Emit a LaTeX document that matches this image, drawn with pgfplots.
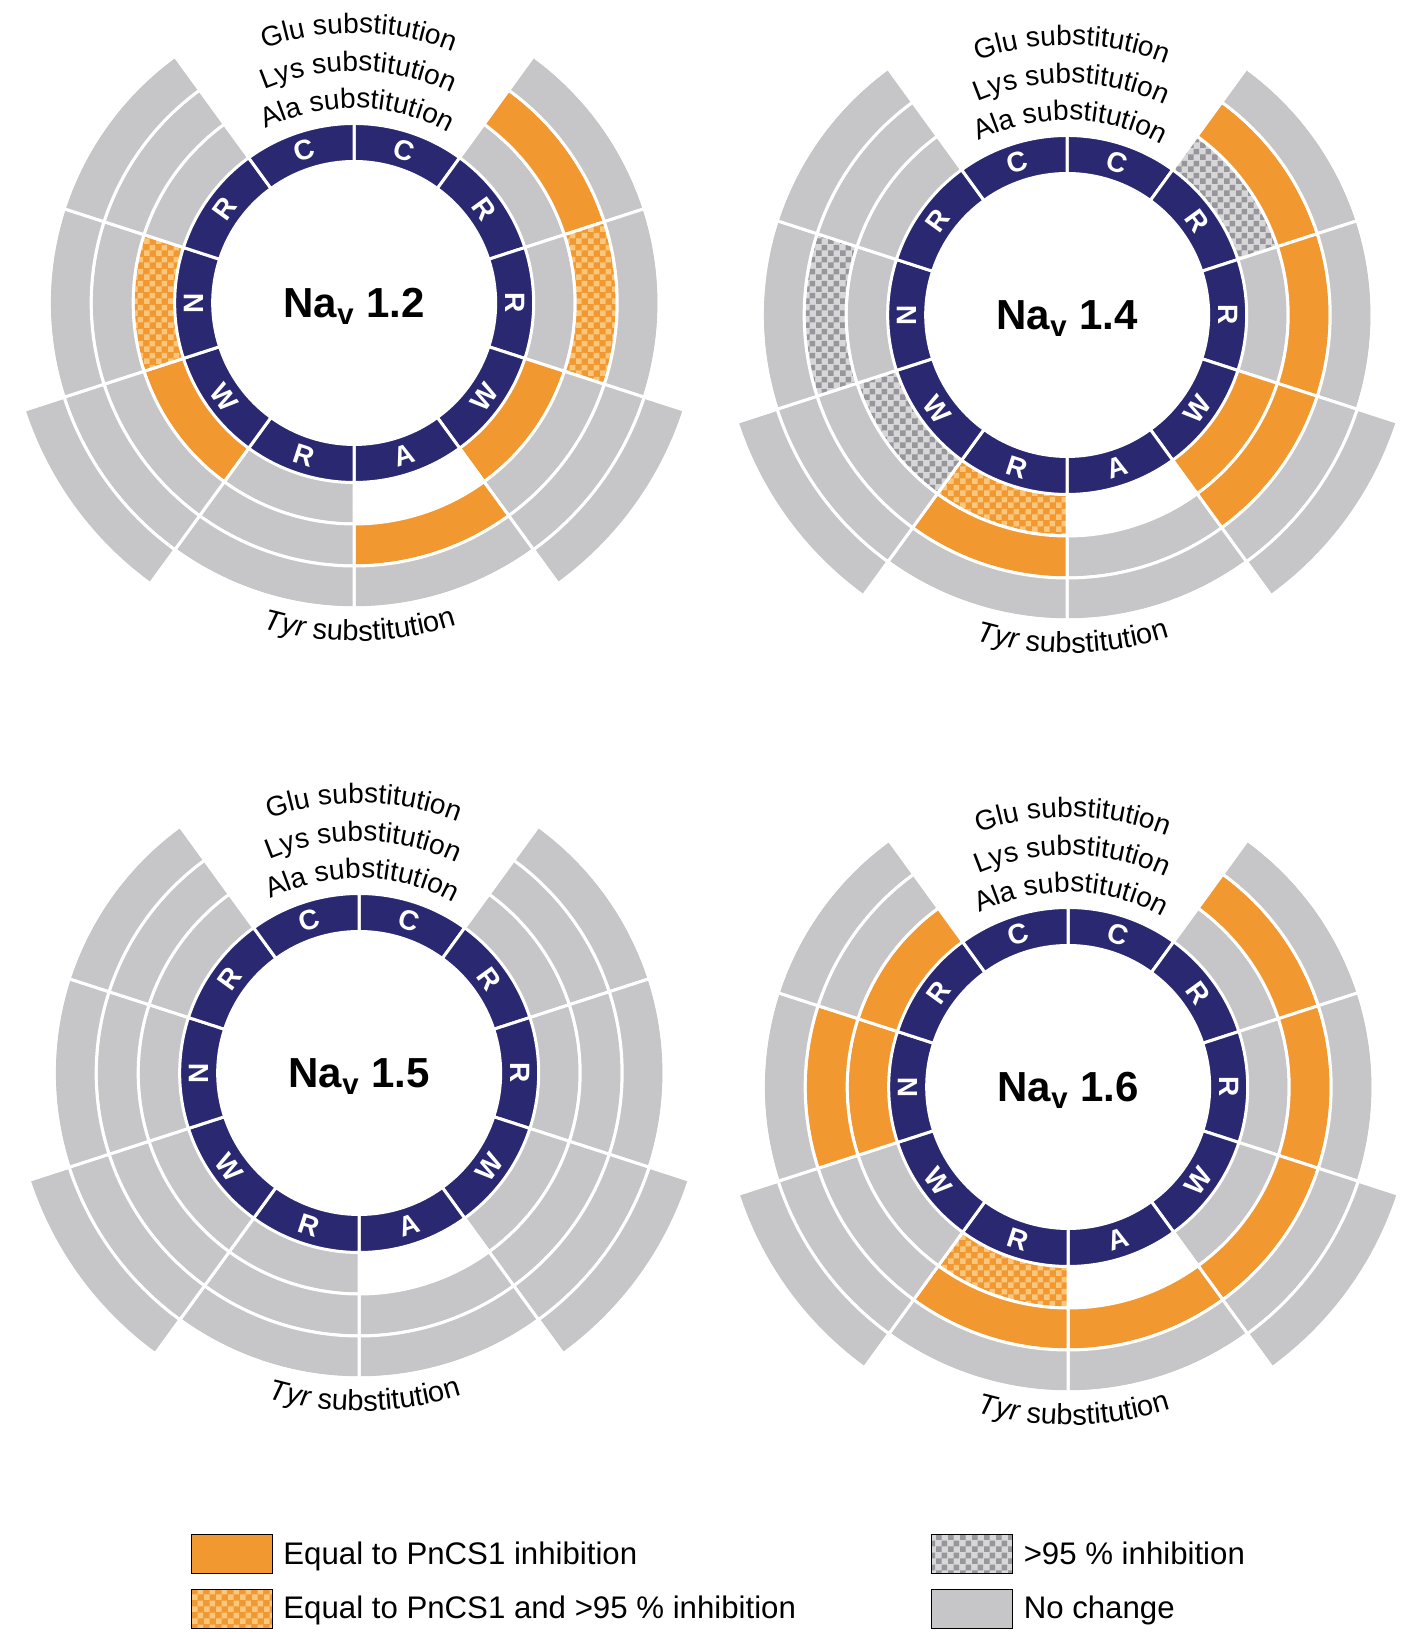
\documentclass[border=0pt]{standalone}
\usepackage{fontspec}
\setmainfont{Liberation Sans}
\usepackage{pgfplots}
\usepackage{pgfplotstable}
\pgfplotsset{compat=1.18}
\usetikzlibrary{patterns.meta,decorations.text}

\definecolor{cnavy}{RGB}{42,40,112}
\definecolor{corange}{RGB}{241,152,48}
\definecolor{corangelt}{RGB}{249,199,125}
\definecolor{cgray}{RGB}{198,198,200}
\definecolor{cgraydk}{RGB}{150,150,155}
\definecolor{cgraylt}{RGB}{215,215,218}

\pgfdeclarepattern{
  name=chk, type=uncolored,
  bottom left={\pgfpoint{0pt}{0pt}},
  top right={\pgfpoint{6pt}{6pt}},
  tile size={\pgfpoint{6pt}{6pt}},
  code={\pgfpathrectangle{\pgfpoint{0pt}{0pt}}{\pgfpoint{3pt}{3pt}}%
        \pgfpathrectangle{\pgfpoint{3pt}{3pt}}{\pgfpoint{3pt}{3pt}}%
        \pgfusepath{fill}}
}

\tikzset{
  st G/.style={fill=cgray},
  st O/.style={fill=corange},
  st H/.style={fill=corange, postaction={pattern=chk, pattern color=corangelt}},
  st X/.style={fill=cgraylt, postaction={pattern=chk, pattern color=cgraydk}},
  st N/.style={},
}

\newcommand\titlefont{\bfseries\fontsize{21}{21}\selectfont}
\newcommand\lblfont{\fontsize{14}{14}\selectfont}
\newcommand\tyrfont{\fontsize{14.5}{14.5}\selectfont}
\newcommand\navfont{\bfseries\fontsize{14}{14}\selectfont}
\newcommand\legfont{\fontsize{15.6}{15.6}\selectfont}

% states per segment (clockwise from the upper right R): ala lys glu tyr
% G no change, O equal to PnCS1, H equal and >95%, X >95%, N none
\pgfplotstableread{
seg ala lys glu tyr
1 G O G N
2 G H G N
3 O G G G
4 N O G N
5 G G G N
6 O G G G
7 H G G N
8 G G G N
}\navtwo
\pgfplotstableread{
seg ala lys glu tyr
1 X O G N
2 G O G N
3 O O G G
4 N G G N
5 H O G N
6 X G G G
7 G X G N
8 G G G N
}\navfour
\pgfplotstableread{
seg ala lys glu tyr
1 G G G N
2 G G G N
3 G G G G
4 N G G N
5 G G G N
6 G G G G
7 G G G N
8 G G G N
}\navfive
\pgfplotstableread{
seg ala lys glu tyr
1 G O G N
2 G O G N
3 G O G G
4 N O G N
5 H O G N
6 G G G G
7 O O G N
8 O G G N
}\navsix

\newcommand\sector[6]{%
  \path[#6, postaction={draw=white, line width=1.5pt}]
    (axis cs:{#1+#4*cos(#3)},{#2+#4*sin(#3)})
    arc[start angle=#3, end angle=#3-36, radius=#4*0.5pt]
    -- (axis cs:{#1+#5*cos(#3-36)},{#2+#5*sin(#3-36)})
    arc[start angle=#3-36, end angle=#3, radius=#5*0.5pt] -- cycle;}

\newcommand\drawchart[4]{%
  \foreach \r in {0,...,7}{%
    \pgfmathtruncatemacro\ang{54-36*\r}%
    \pgfplotstablegetelem{\r}{ala}\of{#1}\let\sA\pgfplotsretval
    \pgfplotstablegetelem{\r}{lys}\of{#1}\let\sB\pgfplotsretval
    \pgfplotstablegetelem{\r}{glu}\of{#1}\let\sC\pgfplotsretval
    \pgfplotstablegetelem{\r}{tyr}\of{#1}\let\sD\pgfplotsretval
    \edef\tmp{%
      \noexpand\sector{#2}{#3}{\ang}{179}{221}{st \sA}%
      \noexpand\sector{#2}{#3}{\ang}{221}{263}{st \sB}%
      \noexpand\sector{#2}{#3}{\ang}{263}{305}{st \sC}%
      \noexpand\sector{#2}{#3}{\ang}{305}{347}{st \sD}}%
    \tmp}%
  \foreach \s/\L/\rot in {0/C/-18,1/R/-54,2/R/-90,3/W/54,4/A/18,5/R/-18,6/W/-54,7/N/90,8/R/54,9/C/18}{%
    \pgfmathtruncatemacro\ang{90-36*\s}%
    \pgfmathtruncatemacro\mang{72-36*\s}%
    \edef\tmp{%
      \noexpand\sector{#2}{#3}{\ang}{141.5}{179.5}{fill=cnavy}%
      \noexpand\node[text=white, font=\noexpand\navfont, rotate=\rot, inner sep=0pt]
        at (axis cs:{#2+160.5*cos(\mang)},{#3+160.5*sin(\mang)}) {\L};}%
    \tmp}%
  \node[font=\titlefont, anchor=base, inner sep=0pt] at (axis cs:#2,#3-15) {Na\textsubscript{v} #4};
  \path[decorate, decoration={text along path, text align=center, text={|\lblfont|Ala substitution}}]
    (axis cs:{#2+195*cos(119)},{#3+195*sin(119)}) arc[start angle=119, end angle=59, radius=97.5pt];
  \path[decorate, decoration={text along path, text align=center, text={|\lblfont|Lys substitution}}]
    (axis cs:{#2+232*cos(119)},{#3+232*sin(119)}) arc[start angle=119, end angle=59, radius=116pt];
  \path[decorate, decoration={text along path, text align=center, text={|\lblfont|Glu substitution}}]
    (axis cs:{#2+270*cos(119)},{#3+270*sin(119)}) arc[start angle=119, end angle=59, radius=135pt];
  \path[decorate, decoration={text along path, text align=center, text={|\tyrfont\itshape|Tyr|\tyrfont\upshape| substitution}}]
    (axis cs:{#2+338*cos(-134)},{#3+338*sin(-134)}) arc[start angle=-134, end angle=-44, radius=169pt];
}

\begin{document}
\begin{tikzpicture}
\begin{axis}[
  x=0.5pt, y=0.5pt, xmin=0, xmax=1417, ymin=0, ymax=1636,
  hide axis, clip=false, scale only axis,
  legend columns=2,
  legend cell align=left,
  legend image code/.code={\path[#1] (0pt,-9.75pt) rectangle (40.5pt,9.75pt);},
  legend style={at={(0.1327,0.0623)}, anchor=north west, draw=none, fill=none,
    inner sep=0pt, font=\legfont, row sep=7.5pt, nodes={inner sep=0pt},
    /tikz/column 1/.style={column sep=5.5pt},
    /tikz/column 2/.style={column sep=67.5pt},
    /tikz/column 3/.style={column sep=5.5pt}},
]
\addplot[draw=none, forget plot] coordinates {(0,0) (1417,1636)};
\drawchart{\navtwo}{352}{1333}{1.2}
\drawchart{\navfour}{1065}{1321}{1.4}
\drawchart{\navfive}{357}{563}{1.5}
\drawchart{\navsix}{1066}{549}{1.6}
\addlegendimage{st O}
\addlegendimage{st X}
\addlegendimage{st H}
\addlegendimage{st G}
\legend{Equal to PnCS1 inhibition, {>}95 \% inhibition, Equal to PnCS1 and {>}95 \% inhibition, No change}
\end{axis}
\end{tikzpicture}
\end{document}
